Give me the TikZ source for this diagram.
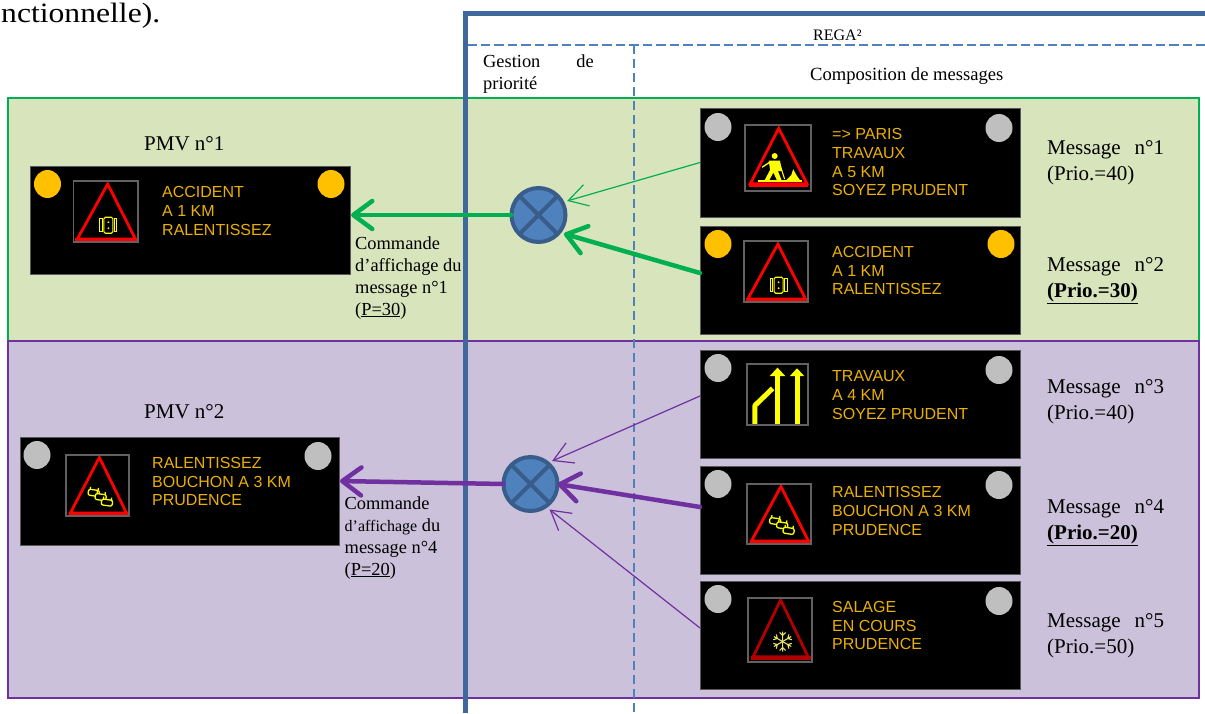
\documentclass[tikz,border=0pt]{standalone}
\usepackage{fontspec}
\setmainfont{Liberation Serif}
\newfontfamily\panelfont{Liberation Sans}
\usetikzlibrary{arrows.meta}
\definecolor{amber}{HTML}{FFC000}
\definecolor{lampoff}{HTML}{BFBFBF}
\definecolor{paneltext}{HTML}{EBB000}
\definecolor{regreen}{HTML}{00B050}
\definecolor{repurple}{HTML}{7030A0}
\definecolor{bggreen}{HTML}{D8E4BC}
\definecolor{bgpurple}{HTML}{CBC1DA}
\definecolor{bluedark}{HTML}{41689C}
\definecolor{bluemid}{HTML}{4F81BD}
\definecolor{blueedge}{HTML}{385D8A}
\definecolor{signyel}{HTML}{FFFF00}
\tikzset{
  panelbox/.style={anchor=north west,fill=black,draw=black!65,line width=.5pt,inner sep=0pt,outer sep=0pt},
  regionbox/.style={anchor=north west,line width=2.6pt,inner sep=0pt,outer sep=0pt},
  paneltxt/.style={anchor=base west,inner sep=0pt,text=paneltext,align=left,font=\panelfont\fontsize{16}{18.6}\selectfont},
  bodytxt/.style={anchor=base west,inner sep=0pt,align=left,text=black,font=\fontsize{18.4}{22}\selectfont},
  bigtxt/.style={anchor=base west,inner sep=0pt,align=left,text=black,font=\fontsize{21}{26}\selectfont},
  merger/.style={circle,draw=blueedge,fill=bluemid,line width=4pt,minimum size=54pt,inner sep=0pt,outer sep=0pt},
  thickgreen/.style={draw=regreen,line width=4.5pt,line cap=round,-{Straight Barb[length=19pt,width=28pt,round]}},
  thingreen/.style={draw=regreen,line width=1.2pt,-{Straight Barb[length=19pt,width=22pt]}},
  thickpurple/.style={draw=repurple,line width=4.5pt,line cap=round,-{Straight Barb[length=19pt,width=28pt,round]}},
  thinpurple/.style={draw=repurple,line width=1.2pt,-{Straight Barb[length=19pt,width=22pt]}},
  signtri/.style={draw=red,line width=2.8pt,line join=miter},
  signbase/.style={draw=red,line width=4pt},
  pict/.style={draw=signyel,line width=1.1pt},
}
\newcommand\pmvbox[5]{\node[panelbox,minimum width=#4pt,minimum height=#5pt] (#1) at (#2,#3) {};}
\newcommand\lamps[5]{\fill[#1] (#2,#3) ellipse [x radius=13.5pt,y radius=14pt];\fill[#1] (#4,#5) ellipse [x radius=13.5pt,y radius=14pt];}
\newcommand\accidenticon{%
  \draw[signtri] (.53,.05) -- (.96,.95) -- (.06,.95) -- cycle;
  \draw[signbase] (.03,.96) -- (.99,.96);
  \begin{scope}[shift={(.54,.725)}]
    \draw[pict,rounded corners=1.5pt] (-4.5pt,-8pt) rectangle (4.5pt,8pt);
    \draw[pict] (-8.5pt,-6.5pt) rectangle (-6pt,6.5pt);
    \draw[pict] (6pt,-6.5pt) rectangle (8.5pt,6.5pt);
    \fill[signyel] (0pt,-3pt) circle[radius=1pt] (0pt,3pt) circle[radius=1pt];
  \end{scope}}
\newcommand\jamcar[2]{%
  \begin{scope}[shift={(#1,#2)},rotate=-8]
    \draw[draw=signyel,line width=1.3pt,rounded corners=2pt,fill=black] (-5.5pt,-3pt) rectangle (5.5pt,3pt);
    \draw[draw=signyel,line width=1.3pt] (-4pt,3pt) -- (-4pt,5.5pt) (4pt,3pt) -- (4pt,5.5pt);
  \end{scope}}
\newcommand\jamicon{%
  \draw[signtri] (.53,.04) -- (.96,.95) -- (.07,.95) -- cycle;
  \draw[signbase] (.04,.96) -- (.99,.96);
  \jamcar{.44}{.62}\jamcar{.55}{.69}\jamcar{.65}{.78}}
\newcommand\pframe[5]{\begin{scope}[shift={(#1,#2)},x=#3pt,y=-#4pt]\fill[black] (0,0) rectangle (1,1);#5\draw[draw=black!62,line width=1.2pt] (0,0) rectangle (1,1);\end{scope}}
\begin{document}
\begin{tikzpicture}[x=1pt,y=-1pt]
\useasboundingbox (0,0) rectangle (1205,713);
\clip (0,0) rectangle (1205,713);
\fill[white] (0,0) rectangle (1205,713);
% regions
\node[regionbox,fill=bggreen,draw=regreen,minimum width=1191pt,minimum height=243pt] (regionA) at (8,98) {};
\node[regionbox,fill=bgpurple,draw=repurple,minimum width=1191pt,minimum height=357pt] (regionB) at (8,341) {};
% REGA frame
\draw[bluemid,line width=2.8pt,dash pattern=on 9.5pt off 4pt] (467,45) -- (1205,45);
\draw[bluemid,line width=2.6pt,dash pattern=on 9pt off 5pt] (634,45) -- (634,713);
\draw[bluedark,line width=5pt] (465,713) -- (465,13) -- (1205,13);
% top text
\node[anchor=base west,inner sep=0pt,font=\fontsize{28}{30}\selectfont] (fragment) at (1,22) {\scalebox{1.13}[1]{nctionnelle).}};
\node[bodytxt,font=\fontsize{16}{18}\selectfont] (rega) at (813,40) {REGA²};
\node[bodytxt] (gestion) at (483,67) {Gestion\hspace{36pt}de};
\node[bodytxt] (priorite) at (483,89) {priorité};
\node[bodytxt,font=\fontsize{18.6}{22}\selectfont] (compo) at (810,80) {Composition de messages};
\node[bigtxt] (pmvA) at (144,150) {PMV n°1};
\node[bigtxt] (pmvB) at (144,418) {PMV n°2};
% panels
\pmvbox{pmv1}{30}{166}{320}{108}
\pmvbox{pmv2}{20}{437}{319}{108}
\pmvbox{p1}{700}{108}{320}{109}
\pmvbox{p2}{700}{226}{320}{108}
\pmvbox{p3}{700}{350}{320}{108}
\pmvbox{p4}{700}{466}{320}{108}
\pmvbox{p5}{700}{581}{320}{108}
\lamps{amber}{47.5}{184}{331}{184}
\lamps{lampoff}{37}{455}{318}{456}
\lamps{lampoff}{718}{127}{999}{128}
\lamps{amber}{718}{244}{1001}{244}
\lamps{lampoff}{718}{368}{999}{370}
\lamps{lampoff}{718}{484}{999}{485}
\lamps{lampoff}{718}{599}{999}{601}
% pictograms
\pframe{73.5}{181}{64.5}{61}{\accidenticon}
\pframe{66}{455}{63}{61}{\jamicon}
\pframe{745}{125}{66}{66}{%
  \draw[signtri] (.51,.05) -- (.94,.89) -- (.08,.89) -- cycle;
  \draw[signbase] (.06,.91) -- (.96,.91);
  \fill[signyel] (.45,.47) circle[radius=3pt];
  \fill[signyel] (.36,.54) -- (.53,.54) -- (.56,.70) -- (.50,.70) -- (.56,.85) -- (.49,.85) -- (.43,.72) -- (.36,.85) -- (.29,.85) -- (.38,.68) -- cycle;
  \draw[draw=signyel,line width=1.3pt] (.38,.56) -- (.26,.64);
  \draw[draw=signyel,line width=1.1pt] (.53,.6) -- (.60,.82);
  \fill[signyel] (.60,.86) -- (.70,.76) -- (.73,.67) -- (.78,.76) -- (.85,.86) -- cycle;
  \draw[draw=signyel,line width=2pt] (.19,.85) -- (.86,.85);}
\pframe{744}{241}{64}{61}{\accidenticon}
\pframe{747}{364}{61}{61}{%
  \draw[draw=signyel,line width=5.5pt] (.5,1) -- (.5,.16);
  \fill[signyel] (.5,.06) -- (.63,.2) -- (.37,.2) -- cycle;
  \draw[draw=signyel,line width=5pt] (.82,1) -- (.82,.16);
  \fill[signyel] (.82,.07) -- (.94,.2) -- (.70,.2) -- cycle;
  \draw[draw=signyel,line width=5pt,line join=round] (.13,1) -- (.13,.68) -- (.42,.40);}
\pframe{747}{484}{64}{60}{\jamicon}
\pframe{748}{598}{64}{64}{%
  \draw[signtri,draw=red!70!black] (.51,.03) -- (.94,.92) -- (.08,.92) -- cycle;
  \draw[signbase,draw=red!70!black] (.05,.94) -- (.99,.94);
  \begin{scope}[shift={(.54,.68)}]
    \foreach \ang in {0,60,...,300}{
      \begin{scope}[rotate=\ang]
        \draw[draw=yellow!60!white!90!black,line width=1.1pt] (0pt,0pt) -- (0pt,-10pt) (-3pt,-9pt) -- (0pt,-6pt) -- (3pt,-9pt);
      \end{scope}}
  \end{scope}}
% panel text (anchored on the last line)
\node[paneltxt] (t0) at (162,235) {ACCIDENT\\A 1 KM\\RALENTISSEZ};
\node[paneltxt] (t00) at (152,505.6) {RALENTISSEZ\\BOUCHON A 3 KM\\PRUDENCE};
\node[paneltxt] (t1) at (832,195.6) {=> PARIS\\TRAVAUX\\A 5 KM\\SOYEZ PRUDENT};
\node[paneltxt] (t2) at (832,294.6) {ACCIDENT\\A 1 KM\\RALENTISSEZ};
\node[paneltxt] (t3) at (832,419) {TRAVAUX\\A 4 KM\\SOYEZ PRUDENT};
\node[paneltxt] (t4) at (832,535) {RALENTISSEZ\\BOUCHON A 3 KM\\PRUDENCE};
\node[paneltxt] (t5) at (832,649.6) {SALAGE\\EN COURS\\PRUDENCE};
% message labels
\node[bigtxt] (m1) at (1047,180) {Message\hspace{14pt}n°1\\(Prio.=40)};
\node[bigtxt] (m2) at (1047,297) {Message\hspace{14pt}n°2\\\underline{\textbf{(Prio.=30)}}};
\node[bigtxt] (m3) at (1047,419) {Message\hspace{14pt}n°3\\(Prio.=40)};
\node[bigtxt] (m4) at (1047,539) {Message\hspace{14pt}n°4\\\underline{\textbf{(Prio.=20)}}};
\node[bigtxt] (m5) at (1047,653) {Message\hspace{14pt}n°5\\(Prio.=50)};
% command labels
\node[bodytxt] (c1txt) at (355,315) {Commande\\d’affichage du\\message n°1\\(\underline{P=30})};
\node[bodytxt] (c2txt) at (344.5,575) {Commande\\{\fontsize{16}{22}\selectfont d’affichage} du\\message n°4\\(\underline{P=20})};
% mergers
\node[merger] (c1) at (538.5,215) {};
\draw[blueedge,line width=4pt] (c1.45) -- (c1.225) (c1.135) -- (c1.315);
\node[merger] (c2) at (530.5,484) {};
\draw[blueedge,line width=4pt] (c2.45) -- (c2.225) (c2.135) -- (c2.315);
% connectors
\draw[thingreen,shorten >=5pt] (p1.west) -- (c1.28);
\draw[thickgreen,shorten >=5pt] ([yshift=7pt]p2.west) -- (c1.-40);
\draw[thickgreen,shorten >=1pt] (c1.west) -- ([yshift=5pt]pmv1.east);
\draw[thinpurple,shorten >=5pt] ([yshift=8pt]p3.west) -- (c2.51);
\draw[thickpurple,shorten >=0pt] ([yshift=13pt]p4.west) -- (c2.east);
\draw[thinpurple,shorten >=5pt] ([yshift=7pt]p5.west) -- (c2.-56);
\draw[thickpurple,shorten >=1pt] (c2.west) -- ([yshift=10pt]pmv2.east);
\end{tikzpicture}
\end{document}
